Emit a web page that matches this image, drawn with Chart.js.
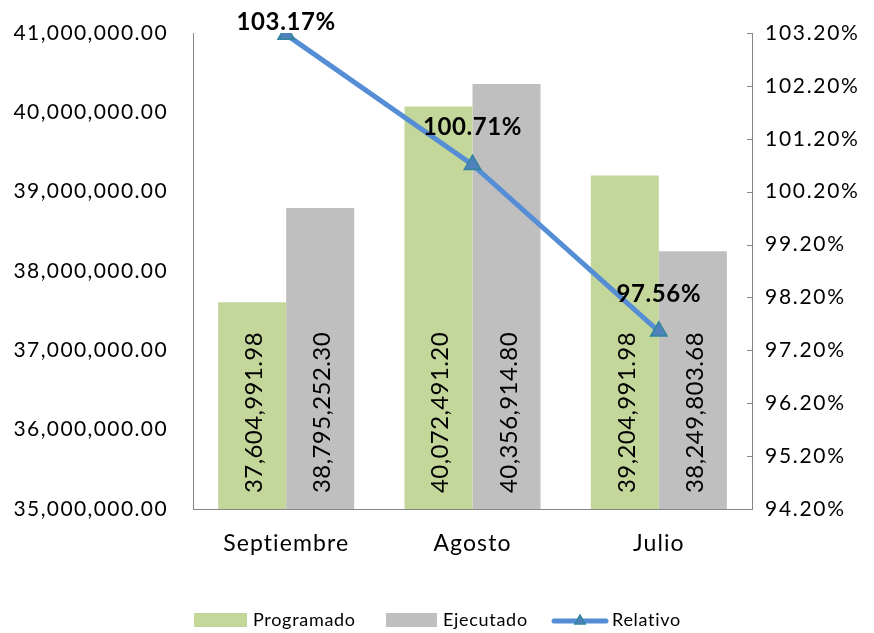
<!DOCTYPE html>
<html>
<head>
<meta charset="utf-8">
<script src="https://cdn.jsdelivr.net/npm/chart.js@4/dist/chart.umd.min.js"></script>
<style>
  html, body { margin: 0; padding: 0; background: #fff; }
  #wrap { width: 874px; height: 633px; position: relative; }
</style>
</head>
<body>
<div id="wrap"><canvas id="c" width="874" height="633"></canvas></div>
<script>
// ---- Data ----
const categories = ['Septiembre', 'Agosto', 'Julio'];
const programado = [37604991.98, 40072491.20, 39204991.98];
const ejecutado = [38795252.30, 40356914.80, 38249803.68];
const relativo = [103.17, 100.71, 97.56];
const leftTicks = [35000000, 36000000, 37000000, 38000000, 39000000, 40000000, 41000000];
const rightTicks = [94.2, 95.2, 96.2, 97.2, 98.2, 99.2, 100.2, 101.2, 102.2, 103.2];
const seriesNames = ['Programado', 'Ejecutado', 'Relativo'];

const FONT = 'Lato';
const AXIS_COLOR = '#868686';
const GREEN = '#C4D79B';
const GRAY = '#BFBFBF';
const LINE = '#558ED5';
const MARK_FILL = '#4F81BD';
const MARK_EDGE = '#31859C';

const fmtMoney = v => {
  const s = Number(v).toFixed(2);
  const [i, d] = s.split('.');
  return i.replace(/\B(?=(\d{3})+(?!\d))/g, ',') + '.' + d;
};
const fmtPct = v => Number(v).toFixed(2) + '%';

function withSpacing(scale, px) {
  const proto = Object.getPrototypeOf(scale);
  scale.drawLabels = function (area) {
    const ctx = this.ctx;
    ctx.save();
    ctx.letterSpacing = px + 'px';
    proto.drawLabels.call(this, area);
    ctx.restore();
  };
}

// Bar value labels (rotated, inside base) + line value labels
const valueLabels = {
  id: 'valueLabels',
  afterDatasetsDraw(chart) {
    const ctx = chart.ctx;
    const bottom = chart.chartArea.bottom;
    chart.data.datasets.forEach((ds, di) => {
      const meta = chart.getDatasetMeta(di);
      if (meta.type !== 'bar') return;
      ctx.save();
      ctx.font = '24px ' + FONT;
      ctx.letterSpacing = '0.4px';
      ctx.fillStyle = '#000';
      ctx.textAlign = 'left';
      ctx.textBaseline = 'alphabetic';
      meta.data.forEach((el, i) => {
        ctx.save();
        ctx.translate(el.x + 10, bottom - 16);
        ctx.rotate(-Math.PI / 2);
        ctx.fillText(fmtMoney(ds.data[i]), 0, 0);
        ctx.restore();
      });
      ctx.restore();
    });
    chart.data.datasets.forEach((ds, di) => {
      const meta = chart.getDatasetMeta(di);
      if (meta.type !== 'line') return;
      ctx.save();
      ctx.font = 'bold 24px ' + FONT;
      ctx.letterSpacing = '0.6px';
      ctx.fillStyle = '#000';
      ctx.textAlign = 'center';
      ctx.textBaseline = 'middle';
      meta.data.forEach((pt, i) => {
        const y = Math.max(pt.y - 37, 22);
        ctx.fillText(fmtPct(ds.data[i]), pt.x, y);
      });
      ctx.restore();
    });
  }
};

// Inside tick marks on the right axis
const rightInsideTicks = {
  id: 'rightInsideTicks',
  afterDraw(chart) {
    const s = chart.scales.y1;
    const ctx = chart.ctx;
    ctx.save();
    ctx.strokeStyle = AXIS_COLOR;
    ctx.lineWidth = 1;
    s.ticks.forEach((t, i) => {
      const y = Math.round(s.getPixelForTick(i)) + 0.5;
      ctx.beginPath();
      ctx.moveTo(s.left - 5, y);
      ctx.lineTo(s.left, y);
      ctx.stroke();
    });
    ctx.restore();
  }
};

// Custom legend
const customLegend = {
  id: 'customLegend',
  afterDraw(chart) {
    const ctx = chart.ctx;
    ctx.save();
    ctx.font = '18px ' + FONT;
    ctx.letterSpacing = '0.7px';
    ctx.textBaseline = 'middle';
    ctx.textAlign = 'left';
    const yc = 620;
    ctx.fillStyle = GREEN;
    ctx.fillRect(194, 613, 53, 14);
    ctx.fillStyle = '#000';
    ctx.fillText(seriesNames[0], 253, yc);
    ctx.fillStyle = GRAY;
    ctx.fillRect(386, 613, 51, 14);
    ctx.fillStyle = '#000';
    ctx.fillText(seriesNames[1], 443, yc);
    ctx.strokeStyle = LINE;
    ctx.lineWidth = 5;
    ctx.lineCap = 'round';
    ctx.beginPath();
    ctx.moveTo(554, 621);
    ctx.lineTo(606, 621);
    ctx.stroke();
    ctx.lineCap = 'butt';
    ctx.beginPath();
    const r = 6;
    ctx.moveTo(580, 621 - r);
    ctx.lineTo(580 + r * 0.866, 621 + r / 2);
    ctx.lineTo(580 - r * 0.866, 621 + r / 2);
    ctx.closePath();
    ctx.fillStyle = MARK_FILL;
    ctx.fill();
    ctx.strokeStyle = MARK_EDGE;
    ctx.lineWidth = 1.5;
    ctx.stroke();
    ctx.fillStyle = '#000';
    ctx.fillText(seriesNames[2], 612, yc);
    ctx.restore();
  }
};

Chart.defaults.font.family = FONT;
Chart.defaults.color = '#000';

new Chart(document.getElementById('c'), {
  data: {
    labels: categories,
    datasets: [
      {
        type: 'line', label: seriesNames[2], data: relativo, yAxisID: 'y1', order: 0,
        borderColor: LINE, borderWidth: 5, tension: 0,
        pointStyle: 'triangle', pointRadius: 9.5, pointHoverRadius: 9.5,
        pointBackgroundColor: MARK_FILL, pointBorderColor: MARK_EDGE, pointBorderWidth: 1.5
      },
      {
        type: 'bar', label: seriesNames[0], data: programado, yAxisID: 'y', order: 1,
        backgroundColor: GREEN, borderWidth: 0,
        categoryPercentage: 0.73, barPercentage: 1.0
      },
      {
        type: 'bar', label: seriesNames[1], data: ejecutado, yAxisID: 'y', order: 2,
        backgroundColor: GRAY, borderWidth: 0,
        categoryPercentage: 0.73, barPercentage: 1.0
      }
    ]
  },
  options: {
    responsive: false,
    animation: false,
    events: [],
    layout: { padding: { top: 33, left: 0, right: 0, bottom: 0 } },
    plugins: { legend: { display: false }, tooltip: { enabled: false } },
    scales: {
      x: {
        grid: { display: false, drawTicks: false },
        border: { display: true, color: AXIS_COLOR, width: 1 },
        ticks: { font: { size: 23 }, padding: 21, color: '#000' },
        afterFit(s) { s.height = 124; s.paddingLeft = 0; s.paddingRight = 0; withSpacing(s, 1.1); }
      },
      y: {
        position: 'left',
        min: 35000000, max: 41000000,
        grid: { display: false, drawTicks: false },
        border: { display: true, color: AXIS_COLOR, width: 1 },
        ticks: { font: { size: 21 }, padding: 25, color: '#000', callback: v => fmtMoney(v) },
        afterBuildTicks(s) { s.ticks = leftTicks.map(v => ({ value: v })); },
        afterFit(s) { s.width = 193; s.paddingTop = 0; s.paddingBottom = 0; withSpacing(s, 1.4); }
      },
      y1: {
        position: 'right',
        min: 94.2, max: 103.2,
        grid: { display: false, drawTicks: false },
        border: { display: true, color: AXIS_COLOR, width: 1 },
        ticks: { font: { size: 21 }, padding: 13, color: '#000', callback: v => fmtPct(v) },
        afterBuildTicks(s) { s.ticks = rightTicks.map(v => ({ value: v })); },
        afterFit(s) { s.width = 122; s.paddingTop = 0; s.paddingBottom = 0; withSpacing(s, 1.7); }
      }
    }
  },
  plugins: [valueLabels, rightInsideTicks, customLegend]
});
</script>
</body>
</html>
